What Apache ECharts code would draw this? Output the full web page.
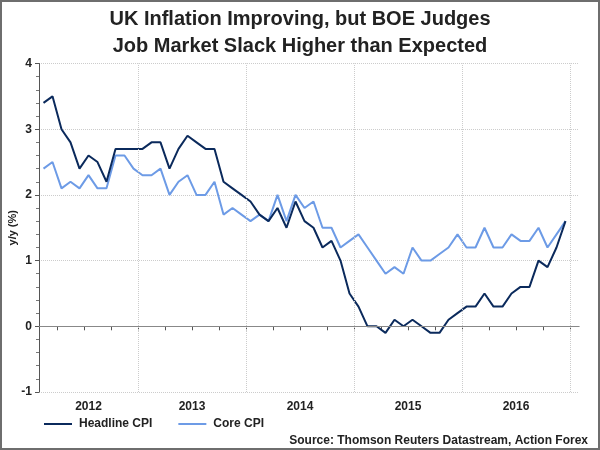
<!DOCTYPE html>
<html>
<head>
<meta charset="utf-8">
<script src="https://cdn.jsdelivr.net/npm/echarts@6/dist/echarts.min.js"></script>
<style>
html, body { margin: 0; padding: 0; background: #fff; }
#chart { width: 600px; height: 450px; }
</style>
</head>
<body>
<div id="chart"></div>
<script>
// monthly y/y readings, Feb 2012 .. Dec 2016
var headlineCPI = [3.4, 3.5, 3.0, 2.8, 2.4, 2.6, 2.5, 2.2, 2.7, 2.7, 2.7,
	2.7, 2.8, 2.8, 2.4, 2.7, 2.9, 2.8, 2.7, 2.7, 2.2, 2.1, 2.0,
	1.9, 1.7, 1.6, 1.8, 1.5, 1.9, 1.6, 1.5, 1.2, 1.3, 1.0, 0.5,
	0.3, 0.0, 0.0, -0.1, 0.1, 0.0, 0.1, 0.0, -0.1, -0.1, 0.1, 0.2,
	0.3, 0.3, 0.5, 0.3, 0.3, 0.5, 0.6, 0.6, 1.0, 0.9, 1.2, 1.6];
var coreCPI = [2.4, 2.5, 2.1, 2.2, 2.1, 2.3, 2.1, 2.1, 2.6, 2.6, 2.4,
	2.3, 2.3, 2.4, 2.0, 2.2, 2.3, 2.0, 2.0, 2.2, 1.7, 1.8, 1.7,
	1.6, 1.7, 1.6, 2.0, 1.6, 2.0, 1.8, 1.9, 1.5, 1.5, 1.2, 1.3,
	1.4, 1.2, 1.0, 0.8, 0.9, 0.8, 1.2, 1.0, 1.0, 1.1, 1.2, 1.4,
	1.2, 1.2, 1.5, 1.2, 1.2, 1.4, 1.3, 1.3, 1.5, 1.2, 1.4, 1.6];
var seriesNames = ['Headline CPI', 'Core CPI'];
var yearLabels = ['2012', '2013', '2014', '2015', '2016'];
var firstMonth = 1; // months after Jan 2012 (Feb 2012)

// x axis is in months since 1 Jan 2012, each reading sits mid-month
function toPoints(arr) {
	var out = [];
	for (var i = 0; i < arr.length; i++) {
		out.push([firstMonth + i + 0.5, arr[i]]);
	}
	return out;
}

var quarterTicks = [];
for (var q = 3; q <= 60; q += 3) quarterTicks.push(q);
var yearLabelPos = [6.5, 18, 30, 42, 54];
var yearLines = [12, 24, 36, 48, 60];

var chart = echarts.init(document.getElementById('chart'));
var font = 'Liberation Sans, Arial, sans-serif';

var option = {
	animation: false,
	backgroundColor: '#fff',
	textStyle: { fontFamily: font },
	title: {
		text: 'UK Inflation Improving, but BOE Judges\nJob Market Slack Higher than Expected',
		left: 'center',
		top: 1,
		textStyle: {
			fontFamily: font,
			fontSize: 20,
			fontWeight: 'bold',
			color: '#222',
			lineHeight: 27
		}
	},
	grid: {
		left: 39,
		right: 21,
		top: 63.5,
		bottom: 58,
		containLabel: false,
		outerBoundsMode: 'none'
	},
	legend: {
		left: 44,
		top: 418,
		padding: 0,
		itemWidth: 28,
		itemHeight: 2,
		itemGap: 26,
		icon: 'rect',
		textStyle: { fontFamily: font, fontSize: 12, fontWeight: 'bold', color: '#222', padding: [0, 0, 0, 2] },
		data: seriesNames
	},
	xAxis: {
		type: 'value',
		min: 1,
		max: 61,
		axisLine: { show: true, lineStyle: { color: '#555', width: 1 } },
		axisTick: {
			show: true,
			length: 4,
			customValues: quarterTicks,
			lineStyle: { color: '#555' }
		},
		axisLabel: {
			customValues: yearLabelPos,
			margin: 9,
			fontFamily: font,
			fontSize: 12,
			fontWeight: 'bold',
			color: '#222',
			formatter: function (v) {
				var i = yearLabelPos.indexOf(v);
				return i >= 0 ? yearLabels[i] : '';
			}
		},
		splitLine: { show: false }
	},
	yAxis: {
		type: 'value',
		min: -1,
		max: 4,
		interval: 1,
		name: 'y/y (%)',
		nameLocation: 'middle',
		nameRotate: 90,
		nameGap: 21,
		nameMoveOverlap: false,
		nameTextStyle: { fontFamily: font, fontSize: 11, fontWeight: 'bold', color: '#222' },
		axisLine: { show: true, lineStyle: { color: '#555', width: 1 } },
		axisTick: { show: true, length: 4, lineStyle: { color: '#555' } },
		minorTick: { show: true, splitNumber: 5, length: 3, lineStyle: { color: '#777' } },
		axisLabel: {
			margin: 7,
			fontFamily: font,
			fontSize: 12,
			fontWeight: 'bold',
			color: '#222'
		},
		splitLine: { show: true, lineStyle: { color: '#ccc', type: 'dotted', width: 1 } }
	},
	graphic: [
		{
			type: 'rect',
			silent: true,
			z: 100,
			shape: { x: 1, y: 1, width: 598, height: 448 },
			style: { fill: 'none', stroke: '#6e6e6e', lineWidth: 2 }
		},
		{
			type: 'text',
			right: 12,
			top: 435,
			style: {
				text: 'Source: Thomson Reuters Datastream, Action Forex',
				fontFamily: font,
				fontSize: 12,
				fontWeight: 'bold',
				fill: '#222'
			}
		}
	],
	series: [
		{
			name: 'grid lines',
			type: 'line',
			data: [],
			z: 1,
			silent: true,
			markLine: {
				silent: true,
				symbol: 'none',
				label: { show: false },
				animation: false,
				data: yearLines.map(function (x) {
					return { xAxis: x, lineStyle: { color: '#ccc', type: 'dotted', width: 1 } };
				}).concat([{ yAxis: 0, lineStyle: { color: '#888', type: 'solid', width: 1.2 } }])
			}
		},
		{
			name: seriesNames[0],
			type: 'line',
			z: 4,
			symbol: 'none',
			color: '#0b2a5c',
			lineStyle: { width: 2, color: '#0b2a5c' },
			data: toPoints(headlineCPI)
		},
		{
			name: seriesNames[1],
			type: 'line',
			z: 3,
			symbol: 'none',
			color: '#6d9be6',
			lineStyle: { width: 2, color: '#6d9be6' },
			data: toPoints(coreCPI)
		}
	]
};

chart.setOption(option);
</script>
</body>
</html>
